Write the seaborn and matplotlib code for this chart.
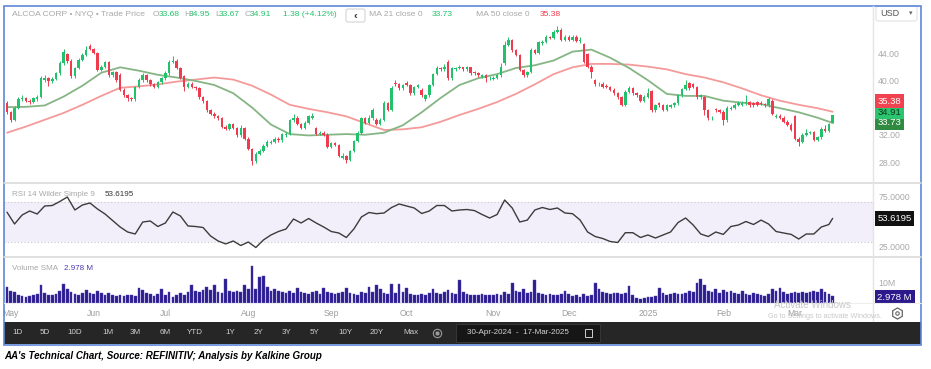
import numpy as np
import pandas as pd
import seaborn as sns
import matplotlib.pyplot as plt
import matplotlib.transforms as mtransforms
from matplotlib.patches import Rectangle, FancyBboxPatch

# NYSE sessions 30-Apr-2024 .. 17-Mar-2025
holidays = ["2024-05-27", "2024-06-19", "2024-07-04", "2024-09-02", "2024-11-28",
            "2024-12-25", "2025-01-01", "2025-01-09", "2025-01-20", "2025-02-17"]
dates = pd.bdate_range("2024-04-30", "2025-03-17", freq="C", holidays=holidays)

# daily candles (USD)
opens = [36.6, 35.3, 34.2, 36.0, 37.2, 37.4, 37.0, 36.8, 37.2, 37.6,
         40.0, 40.3, 39.9, 40.2, 41.0, 42.5, 43.8, 42.9, 40.6, 41.8,
         43.0, 43.7, 45.0, 44.6, 44.0, 41.5, 42.0, 42.7, 40.7, 41.2,
         40.8, 38.6, 37.8, 37.4, 37.2, 39.0, 40.0, 40.7, 40.0, 39.4,
         39.0, 39.7, 40.3, 41.0, 42.7, 42.9, 41.8, 40.6, 39.0, 39.5,
         39.0, 38.8, 37.5, 36.9, 35.6, 35.1, 34.7, 34.4, 33.2, 32.9,
         33.6, 33.0, 31.9, 33.0, 31.4, 29.9, 28.1, 29.2, 29.6, 30.4,
         30.8, 31.0, 31.4, 31.2, 31.9, 32.1, 34.1, 34.5, 33.6, 33.0,
         33.8, 34.5, 33.0, 32.1, 32.3, 32.0, 30.2, 30.8, 30.5, 28.6,
         28.9, 28.3, 29.6, 31.1, 32.3, 34.4, 33.8, 34.4, 34.2, 33.6,
         34.2, 36.6, 35.7, 39.6, 39.4, 38.8, 39.6, 39.3, 38.1, 39.0,
         38.5, 37.3, 37.8, 39.3, 40.9, 41.8, 41.6, 42.7, 40.3, 41.6,
         41.8, 41.9, 41.6, 41.9, 41.2, 41.0, 40.5, 40.7, 40.3, 40.2,
         40.4, 40.7, 42.5, 45.2, 45.9, 44.4, 43.7, 41.5, 40.7, 41.2,
         44.4, 44.0, 45.4, 45.6, 46.3, 46.2, 47.1, 47.4, 45.9, 46.4,
         45.9, 46.4, 45.8, 45.3, 43.8, 42.0, 40.0, 39.4, 39.5, 39.2,
         39.0, 38.6, 38.1, 37.5, 36.4, 38.3, 38.8, 38.1, 37.8, 37.0,
         37.6, 38.4, 35.6, 36.6, 36.3, 35.7, 36.1, 36.3, 36.6, 37.8,
         38.7, 39.6, 39.4, 39.0, 37.5, 37.5, 35.6, 34.4, 35.8, 35.6,
         35.4, 34.1, 35.8, 36.0, 36.4, 36.4, 36.6, 36.8, 36.6, 36.8,
         36.7, 36.5, 36.3, 37.0, 34.6, 34.8, 34.5, 33.9, 33.5, 34.7,
         31.4, 31.0, 32.0, 32.3, 32.4, 31.3, 31.6, 32.9, 32.6, 33.68]
highs = [36.9, 35.5, 36.2, 37.5, 37.8, 37.6, 37.2, 37.6, 37.9, 40.6,
         40.8, 40.5, 40.5, 41.2, 42.8, 44.6, 44.0, 43.1, 42.0, 43.3,
         44.0, 45.0, 45.3, 44.8, 44.1, 42.3, 42.9, 42.8, 41.4, 41.3,
         41.0, 38.8, 38.0, 37.6, 39.2, 40.3, 41.0, 40.9, 40.2, 39.6,
         39.9, 40.5, 41.3, 43.0, 43.6, 43.1, 42.0, 40.8, 39.8, 39.7,
         39.2, 39.0, 37.7, 37.1, 35.8, 35.3, 34.9, 34.6, 33.4, 33.8,
         33.8, 33.2, 33.4, 33.2, 31.6, 30.1, 29.4, 29.9, 30.6, 31.2,
         31.3, 31.6, 31.6, 32.3, 32.4, 34.3, 35.0, 34.7, 33.8, 34.0,
         34.9, 35.2, 33.2, 32.6, 32.5, 32.2, 31.0, 31.0, 30.7, 29.3,
         29.1, 29.8, 31.3, 32.5, 34.6, 34.6, 34.9, 35.9, 34.4, 34.4,
         36.9, 36.8, 39.1, 40.0, 39.6, 39.5, 39.9, 39.5, 39.2, 39.5,
         38.8, 38.0, 39.5, 41.1, 42.1, 42.0, 42.4, 43.0, 42.0, 42.0,
         42.2, 42.0, 42.1, 42.0, 41.4, 41.2, 40.9, 40.9, 40.6, 40.6,
         40.9, 42.5, 45.8, 46.3, 46.0, 44.6, 43.9, 41.7, 41.4, 44.8,
         44.6, 45.8, 45.9, 46.6, 46.5, 47.4, 47.9, 47.6, 46.6, 46.6,
         46.6, 46.6, 46.3, 45.5, 44.0, 42.2, 40.2, 39.7, 39.7, 39.4,
         39.2, 38.8, 38.3, 37.7, 38.5, 39.2, 39.0, 38.3, 38.0, 37.8,
         38.9, 38.6, 36.5, 36.8, 36.5, 36.5, 36.5, 36.8, 38.0, 38.9,
         40.0, 39.8, 39.6, 39.2, 38.0, 37.7, 35.8, 34.8, 36.0, 35.8,
         35.6, 36.2, 36.2, 36.6, 36.9, 37.0, 37.8, 37.0, 36.8, 37.0,
         36.9, 36.7, 37.5, 37.2, 35.0, 35.0, 34.7, 34.1, 33.7, 34.9,
         31.6, 32.2, 32.8, 32.6, 32.6, 31.8, 33.1, 33.4, 33.8, 34.95]
lows = [35.1, 33.9, 34.0, 35.8, 36.9, 36.8, 36.5, 36.6, 37.0, 37.4,
        39.8, 39.2, 39.6, 40.0, 40.8, 42.3, 42.6, 40.4, 40.4, 41.6,
        42.8, 43.5, 44.4, 43.8, 41.3, 41.3, 41.8, 40.5, 40.5, 39.8,
        38.4, 37.6, 37.0, 36.9, 37.0, 38.8, 39.8, 39.8, 39.2, 38.8,
        38.8, 39.5, 40.1, 40.8, 42.5, 41.6, 40.2, 38.4, 38.8, 38.8,
        38.6, 37.3, 36.7, 35.4, 34.9, 34.5, 34.2, 33.0, 32.7, 32.7,
        32.8, 31.7, 31.7, 31.2, 29.7, 27.6, 27.9, 29.0, 29.4, 30.2,
        30.6, 30.8, 31.0, 31.0, 31.7, 31.9, 33.9, 33.4, 32.8, 32.8,
        33.6, 34.3, 31.9, 31.9, 31.8, 30.0, 30.0, 30.3, 28.7, 28.4,
        27.9, 28.1, 29.4, 30.9, 32.1, 33.6, 33.6, 34.2, 33.4, 33.4,
        34.0, 35.5, 35.5, 39.2, 38.6, 38.6, 39.1, 37.9, 37.9, 38.8,
        37.6, 36.9, 37.6, 39.1, 40.7, 41.4, 41.4, 40.1, 40.1, 41.4,
        41.6, 41.4, 41.4, 40.8, 40.8, 40.5, 40.3, 39.8, 40.1, 40.0,
        40.2, 40.5, 42.3, 45.0, 44.2, 43.5, 41.3, 40.5, 40.5, 41.0,
        43.8, 43.8, 45.2, 45.4, 46.0, 46.0, 46.9, 45.7, 45.7, 45.7,
        45.7, 45.6, 45.4, 42.5, 41.8, 40.4, 39.2, 39.2, 38.8, 38.8,
        38.4, 37.9, 37.3, 36.2, 36.2, 38.1, 37.9, 37.6, 36.8, 36.8,
        37.4, 35.4, 35.4, 36.1, 35.5, 35.5, 35.9, 36.1, 36.4, 37.6,
        38.5, 38.6, 38.8, 37.3, 37.3, 34.9, 34.2, 34.2, 35.4, 35.2,
        33.5, 33.9, 35.6, 35.8, 36.2, 36.2, 36.4, 36.1, 36.1, 36.2,
        36.3, 36.1, 36.1, 34.9, 34.4, 34.3, 33.7, 33.3, 32.5, 31.2,
        30.3, 30.8, 31.8, 32.1, 31.1, 31.1, 31.4, 32.4, 32.4, 33.67]
closes = [35.3, 34.2, 36.0, 37.2, 37.4, 37.0, 36.8, 37.4, 37.6, 40.3,
          40.3, 39.9, 40.2, 41.0, 42.5, 44.1, 42.9, 40.6, 41.8, 43.0,
          43.7, 44.4, 44.6, 44.0, 41.5, 42.0, 42.7, 40.7, 41.2, 40.0,
          38.6, 37.8, 37.4, 37.2, 39.0, 40.0, 40.7, 40.0, 39.4, 39.0,
          39.7, 40.3, 41.0, 42.7, 42.9, 41.8, 40.4, 39.0, 39.5, 39.0,
          38.8, 37.5, 36.9, 35.6, 35.1, 34.7, 34.4, 33.2, 32.9, 33.6,
          33.0, 31.9, 33.0, 31.4, 29.9, 28.1, 29.2, 29.6, 30.4, 31.0,
          31.0, 31.4, 31.2, 32.1, 32.1, 34.1, 34.5, 33.6, 33.0, 33.8,
          34.7, 34.8, 32.1, 32.3, 32.0, 30.2, 30.8, 30.5, 28.9, 28.9,
          28.3, 29.6, 31.1, 32.3, 34.4, 33.8, 34.4, 35.6, 33.6, 34.2,
          36.6, 35.7, 38.8, 39.4, 38.8, 39.3, 39.3, 38.1, 39.0, 39.3,
          37.8, 37.8, 39.3, 40.9, 41.8, 41.6, 41.9, 40.3, 41.8, 41.8,
          41.9, 41.6, 41.9, 41.0, 41.0, 40.7, 40.7, 40.3, 40.4, 40.4,
          40.7, 41.9, 45.2, 45.9, 44.4, 43.7, 41.5, 40.7, 41.2, 44.4,
          44.0, 45.6, 45.6, 46.3, 46.2, 47.1, 47.4, 45.9, 46.4, 45.9,
          46.4, 45.8, 45.9, 42.7, 42.0, 41.2, 39.4, 39.5, 39.0, 39.0,
          38.6, 38.1, 37.5, 36.4, 38.3, 38.8, 38.1, 37.8, 37.0, 37.6,
          38.2, 35.6, 36.3, 36.3, 35.7, 36.3, 36.3, 36.6, 37.8, 38.7,
          39.3, 38.8, 39.0, 37.5, 37.8, 35.6, 34.4, 34.5, 35.6, 35.4,
          34.1, 36.0, 36.0, 36.4, 36.7, 36.6, 36.8, 36.3, 36.3, 36.4,
          36.5, 36.3, 37.3, 35.1, 34.8, 34.5, 33.9, 33.5, 32.7, 31.4,
          31.0, 32.0, 32.3, 32.4, 31.3, 31.6, 32.9, 32.6, 33.6, 34.91]
# volume, millions of shares
volume_m = [8.0, 6.0, 5.5, 4.0, 3.5, 3.0, 3.5, 4.0, 4.5, 8.9,
            5.0, 4.2, 4.0, 4.5, 6.0, 9.3, 7.0, 5.5, 4.5, 4.0,
            5.0, 6.5, 5.0, 4.5, 6.0, 4.8, 4.2, 4.8, 3.8, 3.5,
            4.0, 3.5, 3.8, 4.2, 3.6, 7.4, 6.5, 5.0, 4.5, 3.5,
            4.5, 7.0, 4.0, 5.5, 3.2, 4.0, 4.8, 4.2, 5.5, 8.9,
            6.0, 5.5, 6.5, 7.9, 6.5, 8.9, 5.5, 5.0, 12.0, 6.0,
            5.5, 6.0, 5.5, 8.9, 7.0, 18.5, 7.0, 13.2, 13.5, 8.0,
            6.0, 7.0, 6.0, 5.5, 5.0, 6.0, 5.0, 7.5, 5.5, 5.0,
            4.5, 5.5, 6.0, 4.5, 7.5, 5.5, 4.8, 4.5, 5.0, 5.5,
            7.5, 5.0, 4.5, 4.0, 5.5, 5.2, 7.9, 5.5, 8.9, 7.0,
            5.0, 4.5, 9.7, 5.0, 9.7, 5.5, 7.5, 4.5, 4.0, 4.2,
            4.5, 4.0, 5.0, 7.0, 5.0, 4.5, 5.5, 6.5, 5.0, 4.5,
            11.3, 5.5, 4.5, 4.0, 4.0, 4.2, 4.5, 4.0, 4.0, 4.2,
            4.5, 4.0, 5.5, 4.5, 9.8, 6.0, 5.5, 7.0, 5.0, 5.5,
            11.3, 5.0, 4.5, 4.0, 4.5, 4.0, 3.8, 4.5, 6.0, 4.5,
            3.5, 4.0, 3.2, 4.5, 3.5, 4.0, 9.8, 7.0, 5.5, 5.0,
            4.5, 4.8, 5.0, 4.5, 5.0, 8.6, 4.0, 2.5, 2.2, 2.5,
            2.8, 3.0, 3.5, 7.5, 5.0, 4.0, 4.5, 5.0, 4.5, 4.5,
            5.0, 6.0, 5.5, 9.8, 12.0, 8.9, 6.0, 5.5, 7.0, 5.0,
            6.5, 5.5, 6.0, 5.0, 4.5, 6.0, 4.5, 4.0, 5.0, 4.5,
            4.0, 3.5, 4.5, 7.0, 6.0, 7.5, 5.5, 4.5, 5.0, 5.5,
            5.0, 5.5, 5.0, 5.5, 6.0, 5.5, 7.0, 5.5, 4.5, 3.4]

# moving averages read every 5th session (+ last session)
ma21_5d = [36.05, 36.1, 36.3, 37.6, 39.2, 41.1, 41.9, 41.4, 40.8, 40.4,
           39.9, 39.3, 38.1, 36.0, 33.5, 32.1, 31.9, 32.0, 32.1, 32.0,
           32.3, 33.4, 35.3, 37.4, 39.3, 40.3, 40.9, 41.8, 42.2, 42.9,
           44.2, 44.5, 43.3, 41.8, 40.0, 38.0, 37.7, 37.7, 37.0, 36.7,
           36.5, 35.9, 35.3, 34.5, 33.73]
ma50_5d = [32.3, 33.2, 34.2, 35.2, 36.4, 37.7, 38.9, 39.1, 39.4, 39.8,
           40.1, 40.4, 40.1, 39.2, 37.9, 36.4, 35.8, 35.3, 34.7, 33.7,
           32.7, 32.8, 33.1, 33.9, 34.9, 35.8, 36.8, 38.0, 39.4, 40.9,
           41.9, 42.4, 42.4, 42.3, 42.0, 41.6, 40.9, 40.4, 39.7, 38.8,
           37.8, 37.0, 36.4, 35.9, 35.38]
# RSI(14) read every 2nd session (+ last session)
rsi_2d = [59.8, 48, 57, 61, 58, 66, 66.5, 70.5, 75, 62,
          67, 69, 63, 58, 51.5, 45, 40, 38, 50, 51,
          45.5, 49, 60, 56, 46, 45.5, 44.5, 36, 31, 28.1,
          31, 26.5, 30, 24.5, 32, 37, 40.5, 43, 53, 49,
          53.5, 49, 45, 40.5, 39, 34.5, 43, 55, 59.5, 58.3,
          59, 64.5, 68, 66, 64, 58.5, 61, 66.5, 66.5, 61,
          62, 62.5, 61.4, 57.5, 54, 57.5, 72, 64, 50, 51.9,
          62, 64.5, 62.5, 64, 59, 58.3, 52, 40, 35.5, 33.5,
          30.5, 29.5, 39.3, 39.3, 34.5, 37, 34, 37, 40, 49.5,
          54, 47, 38, 35.5, 40, 37.6, 45.5, 47, 50.5, 47.5,
          51.9, 48, 40.5, 39, 37.6, 33, 38, 38, 45, 47.5,
          53.62]

df = pd.DataFrame({"date": dates, "open": opens, "high": highs,
                   "low": lows, "close": closes, "vol": volume_m})
df["n"] = np.arange(len(df))
last = len(df) - 1


def sampled(step):
    idx = list(range(0, len(df), step))
    if idx[-1] != last:
        idx.append(last)
    return idx


ma_n = sampled(5)
rsi_n = sampled(2)

sns.set_theme(style="white")
plt.rcParams["font.family"] = ["Liberation Sans", "DejaVu Sans"]

W, H = 931, 369
fig = plt.figure(figsize=(W / 100, H / 100), dpi=100)


def px_box(x0, y0, x1, y1):
    return [x0 / W, 1 - y1 / H, (x1 - x0) / W, (y1 - y0) / H]


ax_p = fig.add_axes(px_box(4, 6, 873, 183))
ax_r = fig.add_axes(px_box(4, 183, 873, 257))
ax_v = fig.add_axes(px_box(4, 257, 873, 303))

GREEN, RED = "#22c16b", "#ee3b4d"
LABEL = "#a9a9a9"

# ---- price panel
cols = np.where(df["close"] >= df["open"], GREEN, RED)
sns.lineplot(x=ma_n, y=ma50_5d, ax=ax_p, color="#f59a9a", linewidth=1.3, zorder=2)
sns.lineplot(x=ma_n, y=ma21_5d, ax=ax_p, color="#86b585", linewidth=1.3, zorder=2)
ax_p.vlines(df["n"], df["low"], df["high"], colors=cols, lw=0.7, zorder=3)
body = (df["close"] - df["open"]).abs().clip(lower=0.07)
ax_p.bar(df["n"], body, bottom=df[["open", "close"]].min(axis=1), width=0.66,
         color=cols, linewidth=0, zorder=4)
ax_p.set_ylim(24.92, 50.9)
# 36.00 sits under the last-value flags, so it is not drawn
price_ticks = [28, 32, 40, 44]
ax_p.set_yticks(price_ticks)
ax_p.set_yticklabels([f"{v:.2f}" for v in price_ticks])

# ---- RSI panel
ax_r.axhspan(30, 70, color="#f3effa", lw=0, zorder=0)
for lvl in (30, 70):
    ax_r.axhline(lvl, color="#c8c8c8", lw=0.8, ls=(0, (1, 2)), zorder=1)
sns.lineplot(x=rsi_n, y=rsi_2d, ax=ax_r, color="#3c3c3c", linewidth=1.0, zorder=3)
ax_r.set_ylim(15, 89)
ax_r.set_yticks([25, 75])
ax_r.set_yticklabels(["25.0000", "75.0000"])

# ---- volume panel
ax_v.bar(df["n"], df["vol"], width=0.72, color="#2d1e8e", edgecolor="#4e40b4",
         linewidth=0.3)
ax_v.set_ylim(0, 23)
ax_v.set_yticks([10])
ax_v.set_yticklabels(["10M"])

for ax in (ax_p, ax_r, ax_v):
    ax.set_xlim(-0.8, 229.7)
    ax.set_xticks([])
    ax.set_xlabel("")
    ax.set_ylabel("")
    for s in ax.spines.values():
        s.set_visible(False)
    ax.yaxis.tick_right()
    ax.tick_params(axis="y", length=0, pad=3.8, labelsize=6.3, labelcolor=LABEL)

# month labels at first session of each month
trans = mtransforms.blended_transform_factory(ax_v.transData, ax_v.transAxes)
firsts = df.groupby([df["date"].dt.year, df["date"].dt.month])["n"].min()
for (yr, mo), n in firsts.items():
    if n == 0:
        continue
    lab = str(yr) if mo == 1 else df["date"][n].strftime("%b")
    ax_v.text(n, -0.22, lab, transform=trans, ha="center", va="center",
              fontsize=6.2, color="#9d9d9d", clip_on=False)


# value flags on the right edge
def flag(ax, val, text, fc, tc, dy=0):
    ax.annotate(text, xy=(1, val), xycoords=ax.get_yaxis_transform(),
                xytext=(3.2, dy), textcoords="offset points", ha="left", va="center",
                fontsize=6.8, color=tc, zorder=20, annotation_clip=False,
                bbox=dict(boxstyle="square,pad=0.28", fc=fc, ec="none"))


flag(ax_p, 33.73, "33.73", "#2e8b3f", "white", 0)
flag(ax_p, 33.73, f"{closes[-1]:.2f}", "#2bc46f", "#0d3a1c", 7.8)
flag(ax_p, 33.73, "35.38", "#f0424f", "white", 15.6)
flag(ax_r, rsi_2d[-1], "53.6195", "#111111", "white")
flag(ax_v, 2.978, "2.978 M", "#2c1a8c", "white")

# ---- chrome overlay in pixel coordinates
ov = fig.add_axes([0, 0, 1, 1], zorder=10)
ov.set_xlim(0, W)
ov.set_ylim(H, 0)
ov.axis("off")

for y in (183, 257):
    ov.plot([4, 921], [y, y], color="#dadada", lw=1.2)
ov.plot([4, 921], [303, 303], color="#eeeeee", lw=0.8)
ov.plot([873, 873], [6, 321], color="#e4e4e4", lw=1.0)

# header legend
hy = 15
GREY = "#a8a8a8"
ov.text(12, hy, "ALCOA CORP \u2022 NYQ \u2022 Trade Price", fontsize=6.1, color=GREY, va="center")
for x, t, c in [(153, "O", GREY), (159, "33.68", GREEN), (184, "H", GREY),
                (189, "34.95", GREEN), (215, "L", GREY), (219, "33.67", GREEN),
                (245, "C", GREY), (250, "34.91", GREEN), (283, "1.38 (+4.12%)", GREEN),
                (369, "MA 21 close 0", GREY), (432, "33.73", GREEN),
                (476, "MA 50 close 0", GREY), (540, "35.38", RED)]:
    ov.text(x, hy, t, fontsize=6.1, color=c, va="center")
ov.add_patch(FancyBboxPatch((346, 9), 19, 13, boxstyle="round,pad=0,rounding_size=2",
                            fc="white", ec="#d4d4d4", lw=0.8))
ov.text(355.5, 15.5, "\u2039", fontsize=8, color="#333333", ha="center", va="center", weight="bold")

# USD selector
ov.add_patch(FancyBboxPatch((876, 6), 41, 15, boxstyle="round,pad=0,rounding_size=2",
                            fc="white", ec="#e2e2e2", lw=0.8))
ov.text(880, 13.5, "USD", fontsize=6.5, color="#555555", va="center")
ov.text(911, 13.5, "\u25be", fontsize=5, color="#666666", va="center", ha="center")

# panel captions
ov.text(12, 195, "RSI 14 Wilder Simple 9", fontsize=5.8, color=GREY, va="center")
ov.text(105, 195, "53.6195", fontsize=5.8, color="#333333", va="center")
ov.text(12, 268, "Volume SMA", fontsize=5.8, color=GREY, va="center")
ov.text(64, 268, "2.978 M", fontsize=5.8, color="#4a3ab0", va="center")

# windows watermark
ov.text(774, 305, "Activate Windows", fontsize=7, color="#c8c8c8", va="center")
ov.text(768, 316, "Go to Settings to activate Windows.", fontsize=5.2, color="#c8c8c8", va="center")

# gear icon
ov.plot(897, 313, marker="h", ms=8, mfc="none", mec="#666666", mew=0.9)
ov.plot(897, 313, marker="o", ms=2.5, mfc="none", mec="#666666", mew=0.8)

# bottom toolbar
ov.add_patch(Rectangle((4, 322), 917, 22, fc="#262626", ec="none"))
for x, t in [(18, "1D"), (45, "5D"), (75, "10D"), (108, "1M"), (135, "3M"), (165, "6M"),
             (195, "YTD"), (230, "1Y"), (258, "2Y"), (287, "3Y"), (315, "5Y"),
             (345, "10Y"), (377, "20Y"), (411, "Max")]:
    ov.text(x, 333, t, fontsize=5.8, color="#cfcfcf", ha="center", va="center")
ov.plot(437, 333, marker="o", ms=6, mfc="none", mec="#9a9a9a", mew=0.8)
ov.plot(437, 333, marker="o", ms=2, mfc="#9a9a9a", mec="#9a9a9a")
ov.add_patch(Rectangle((456, 324), 144, 18, fc="#161616", ec="#3a3a3a", lw=0.6))
ov.text(518, 333, "30-Apr-2024  -  17-Mar-2025", fontsize=5.8, color="#d6d6d6",
        ha="center", va="center")
ov.add_patch(Rectangle((585, 328.5), 7, 8, fc="none", ec="#cfcfcf", lw=0.7))

# outer frame
ov.add_patch(Rectangle((4, 6), 917, 339, fc="none", ec="#5d86d8", lw=1.2))

# caption
ov.text(4, 356, "AA's Technical Chart, Source: REFINITIV; Analysis by Kalkine Group",
        family=["Liberation Sans Narrow", "Liberation Sans", "DejaVu Sans"],
        fontsize=7.0, weight="bold", style="italic", color="black", va="center")

fig.savefig("out.png", dpi=100)
